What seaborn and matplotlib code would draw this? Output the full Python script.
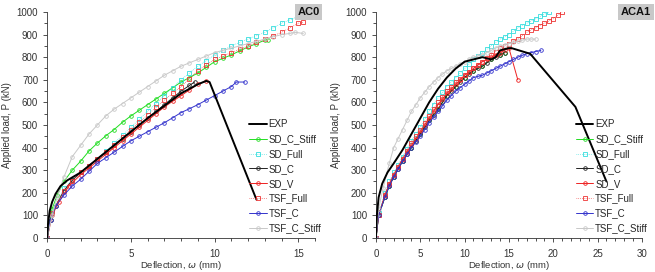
import matplotlib
matplotlib.use('Agg')
import matplotlib.pyplot as plt
from matplotlib.ticker import MultipleLocator
import seaborn as sns

# ---- AC0 数据 (挠度 mm, 荷载 kN) ----
ac0_exp_x = [0, 0.05, 0.15, 0.3, 0.5, 0.8, 1.2, 2, 3, 4, 5, 6, 7, 8, 9, 9.5, 9.7, 12.5]
ac0_exp_y = [0, 60, 120, 160, 195, 230, 255, 290, 350, 410, 470, 530, 585, 640, 680, 695, 690, 170]
ac0_sdcs_x = [0, 0.3, 0.6, 1, 1.5, 2, 2.5, 3, 3.5, 4, 4.5, 5, 5.5, 6, 6.5, 7, 7.5, 8, 8.5, 9, 9.5, 10, 10.5, 11, 11.5, 12, 12.5, 13, 13.2]
ac0_sdcs_y = [0, 130, 190, 250, 300, 340, 385, 420, 452, 480, 512, 540, 565, 590, 615, 640, 665, 690, 710, 730, 755, 780, 795, 810, 828, 845, 860, 875, 878]
ac0_sdf_x = [0, 0.3, 1, 1.5, 2, 2.5, 3, 3.5, 4, 4.5, 5, 5.5, 6, 6.5, 7, 7.5, 8, 8.5, 9, 9.5, 10, 10.5, 11, 11.5, 12, 12.5, 13, 13.5, 14, 14.5, 15]
ac0_sdf_y = [0, 110, 220, 255, 290, 320, 350, 385, 420, 455, 490, 525, 560, 595, 630, 665, 700, 730, 760, 785, 810, 830, 850, 865, 880, 895, 910, 930, 950, 965, 980]
ac0_sdc_x = [0, 0.2, 0.5, 1, 1.5, 2, 2.5, 3, 3.5, 4, 4.5, 5, 5.5, 6, 6.5, 7, 7.5, 8, 8.5, 8.8]
ac0_sdc_y = [0, 80, 140, 210, 255, 290, 320, 350, 380, 410, 440, 470, 500, 530, 560, 590, 620, 650, 675, 690]
ac0_sdv_x = [0, 0.3, 0.7, 1.3, 2, 2.5, 3, 3.5, 4, 4.5, 5, 5.5, 6, 6.5, 7, 7.5, 8, 8.5, 9, 9.5]
ac0_sdv_y = [0, 100, 160, 230, 280, 310, 340, 370, 400, 430, 460, 490, 520, 550, 580, 605, 630, 655, 680, 695]
ac0_tsff_x = [0, 0.3, 1, 1.5, 2, 2.5, 3, 3.5, 4, 4.5, 5, 5.5, 6, 6.5, 7, 7.5, 8, 8.5, 9, 9.5, 10, 10.5, 11, 11.5, 12, 12.5, 13, 13.5, 14, 14.5, 15, 15.3]
ac0_tsff_y = [0, 110, 210, 250, 290, 320, 350, 380, 410, 445, 480, 512, 545, 578, 610, 640, 670, 705, 740, 765, 790, 805, 820, 835, 850, 865, 880, 895, 910, 930, 950, 955]
ac0_tsfc_x = [0, 0.2, 0.5, 1, 1.5, 2, 2.5, 3, 3.5, 4, 4.5, 5, 5.5, 6, 6.5, 7, 7.5, 8, 8.5, 9, 9.5, 10, 10.5, 11, 11.3, 11.8]
ac0_tsfc_y = [0, 80, 140, 190, 230, 260, 295, 330, 355, 380, 405, 430, 450, 470, 490, 510, 532, 555, 572, 590, 610, 630, 650, 670, 690, 690]
ac0_tsfcs_x = [0, 0.3, 0.6, 1, 1.5, 2, 2.5, 3, 3.5, 4, 4.5, 5, 5.5, 6, 6.5, 7, 7.5, 8, 8.5, 9, 9.5, 10, 10.5, 11, 11.5, 12, 12.5, 13, 13.5, 14, 14.5, 14.8, 15.3]
ac0_tsfcs_y = [0, 100, 180, 270, 360, 410, 460, 500, 540, 570, 595, 620, 645, 670, 695, 720, 740, 760, 775, 790, 805, 820, 830, 840, 850, 860, 870, 880, 890, 900, 905, 910, 905]

# ---- ACA1 数据 ----
aca1_exp_x = [0, 0.1, 0.3, 0.7, 1.3, 2, 3, 4, 5, 6, 7, 8, 9, 10, 11, 12, 12.5, 13, 13.5, 14, 15, 15.3, 17.4, 22.5, 26]
aca1_exp_y = [0, 100, 180, 240, 290, 330, 390, 460, 530, 600, 660, 710, 750, 780, 790, 800, 795, 790, 800, 830, 840, 840, 815, 580, 250]
aca1_sdcs_x = [0, 0.3, 1, 1.5, 2, 3, 4, 5, 6, 7, 8, 9, 10, 11, 12, 13, 14, 14.5]
aca1_sdcs_y = [0, 100, 180, 230, 270, 340, 400, 460, 520, 570, 630, 670, 710, 740, 760, 790, 810, 820]
aca1_sdf_x = [0, 0.3, 1, 1.5, 2, 2.5, 3, 3.5, 4, 4.5, 5, 5.5, 6, 6.5, 7, 7.5, 8, 8.5, 9, 9.5, 10, 10.5, 11, 11.5, 12, 12.5, 13, 13.5, 14, 14.5, 15, 15.5, 16, 16.5, 17, 17.5, 18, 18.5, 19, 19.5]
aca1_sdf_y = [0, 110, 200, 250, 290, 325, 360, 395, 430, 460, 490, 525, 560, 590, 620, 645, 670, 690, 710, 730, 750, 770, 790, 805, 820, 835, 850, 865, 880, 890, 900, 915, 930, 940, 950, 960, 970, 980, 990, 1000]
aca1_sdc_x = [0, 0.3, 1, 1.5, 2, 2.5, 3, 3.5, 4, 4.5, 5, 5.5, 6, 6.5, 7, 7.5, 8, 8.5, 9, 9.5, 10, 10.5, 11, 11.5, 12, 12.5, 13, 13.5, 14, 14.5]
aca1_sdc_y = [0, 100, 180, 230, 270, 305, 340, 370, 400, 430, 460, 490, 520, 545, 570, 600, 630, 650, 670, 690, 710, 725, 740, 750, 760, 775, 790, 800, 810, 820]
aca1_sdv_x = [0, 0.3, 1, 1.5, 2, 2.5, 3, 3.5, 4, 4.5, 5, 5.5, 6, 6.5, 7, 7.5, 8, 8.5, 9, 9.5, 10, 10.5, 11, 11.5, 12, 12.5, 13, 13.5, 14, 14.5, 15, 16]
aca1_sdv_y = [0, 100, 190, 240, 280, 315, 350, 380, 410, 440, 470, 500, 530, 560, 590, 615, 640, 660, 680, 700, 720, 735, 750, 765, 780, 790, 800, 810, 820, 830, 840, 700]
aca1_tsff_x = [0, 0.3, 1, 1.5, 2, 2.5, 3, 3.5, 4, 4.5, 5, 5.5, 6, 6.5, 7, 7.5, 8, 8.5, 9, 9.5, 10, 10.5, 11, 11.5, 12, 12.5, 13, 13.5, 14, 14.5, 15, 15.5, 16, 16.5, 17, 17.5, 18, 18.5, 19, 19.5, 20, 20.5, 21]
aca1_tsff_y = [0, 100, 190, 240, 280, 315, 350, 385, 420, 450, 480, 510, 540, 570, 600, 625, 650, 670, 690, 705, 720, 735, 750, 765, 780, 795, 810, 825, 840, 850, 860, 870, 880, 895, 910, 920, 930, 940, 950, 960, 970, 985, 1000]
aca1_tsfc_x = [0, 0.3, 1, 1.5, 2, 2.5, 3, 3.5, 4, 4.5, 5, 5.5, 6, 6.5, 7, 7.5, 8, 8.5, 9, 9.5, 10, 10.5, 11, 11.5, 12, 12.5, 13, 13.5, 14, 14.5, 15, 15.5, 16, 16.5, 17, 17.5, 18, 18.6]
aca1_tsfc_y = [0, 100, 180, 230, 270, 305, 340, 370, 400, 425, 450, 480, 510, 535, 560, 585, 610, 630, 650, 665, 680, 695, 710, 715, 720, 730, 740, 750, 760, 770, 780, 790, 800, 808, 815, 820, 825, 830]
aca1_tsfcs_x = [0, 0.3, 0.8, 1.5, 2, 2.5, 3, 3.5, 4, 4.5, 5, 5.5, 6, 6.5, 7, 7.5, 8, 8.5, 9, 9.5, 10, 10.5, 11, 11.5, 12, 12.5, 13, 13.5, 14, 14.5, 15, 15.5, 16, 16.5, 17, 17.5, 18]
aca1_tsfcs_y = [0, 130, 220, 330, 400, 440, 480, 520, 560, 590, 620, 645, 670, 690, 710, 725, 740, 750, 760, 770, 780, 790, 800, 805, 810, 820, 830, 840, 850, 855, 860, 865, 870, 875, 880, 880, 880]

labels = ['EXP', 'SD_C_Stiff', 'SD_Full', 'SD_C', 'SD_V', 'TSF_Full', 'TSF_C', 'TSF_C_Stiff']

# 线型设置
styles = {
    'EXP': dict(color='black', marker=None, lw=1.4, ls='-'),
    'SD_C_Stiff': dict(color='#22dd22', marker='o', lw=0.7, ls='-'),
    'SD_Full': dict(color='#33dddd', marker='s', lw=0.5, ls=':'),
    'SD_C': dict(color='#222222', marker='o', lw=0.7, ls='-'),
    'SD_V': dict(color='#ee2222', marker='o', lw=0.7, ls='-'),
    'TSF_Full': dict(color='#ee3333', marker='s', lw=0.5, ls=':'),
    'TSF_C': dict(color='#3333cc', marker='o', lw=0.7, ls='-'),
    'TSF_C_Stiff': dict(color='#c8c8c8', marker='o', lw=0.7, ls='-'),
}

sns.set_style('ticks')
plt.rcParams['font.family'] = ['Liberation Sans', 'DejaVu Sans']
plt.rcParams['font.size'] = 7


def draw_panel(ax, series, xmax, title, box_x):
    for lab in labels:
        x, y = series[lab]
        st = styles[lab]
        sns.lineplot(x=x, y=y, ax=ax, sort=False, estimator=None,
                     color=st['color'], lw=st['lw'], ls=st['ls'],
                     marker=st['marker'], markersize=2.6,
                     markerfacecolor='none' if st['marker'] else None,
                     markeredgecolor=st['color'], markeredgewidth=0.6,
                     label=lab, zorder=3 if lab == 'EXP' else 2)
    ax.set_xlim(0, xmax)
    ax.set_ylim(0, 1000)
    ax.xaxis.set_major_locator(MultipleLocator(5))
    ax.xaxis.set_minor_locator(MultipleLocator(1))
    ax.yaxis.set_major_locator(MultipleLocator(100))
    ax.yaxis.set_minor_locator(MultipleLocator(50))
    ax.tick_params(which='major', length=3, width=0.6, labelsize=7, colors='#333333')
    ax.tick_params(which='minor', length=2, width=0.6, colors='#333333')
    ax.tick_params(axis='x', which='major', pad=5)
    for s in ['left', 'bottom']:
        ax.spines[s].set_linewidth(0.6)
        ax.spines[s].set_color('#333333')
    sns.despine(ax=ax)
    ax.set_xlabel('Deflection, $\\omega$ (mm)', fontsize=6.8, color='#333333', labelpad=0)
    ax.set_ylabel('Applied load, P (kN)', fontsize=7, color='#333333', labelpad=3)
    ax.legend(loc='lower right', bbox_to_anchor=(1.045, -0.005), frameon=False,
              fontsize=7, handlelength=1.8, handletextpad=0.2, labelspacing=0.5,
              borderaxespad=0.2)
    fig.text(box_x, 0.955, title, ha='center', va='center', fontsize=8,
             fontweight='bold', color='#111111',
             bbox=dict(facecolor='#c8c8c8', edgecolor='none', pad=2))


fig = plt.figure(figsize=(6.55, 2.72), dpi=100)
ax1 = fig.add_axes([0.072, 0.125, 0.409, 0.831])
ax2 = fig.add_axes([0.574, 0.125, 0.406, 0.831])

ac0 = {
    'EXP': (ac0_exp_x, ac0_exp_y), 'SD_C_Stiff': (ac0_sdcs_x, ac0_sdcs_y),
    'SD_Full': (ac0_sdf_x, ac0_sdf_y), 'SD_C': (ac0_sdc_x, ac0_sdc_y),
    'SD_V': (ac0_sdv_x, ac0_sdv_y), 'TSF_Full': (ac0_tsff_x, ac0_tsff_y),
    'TSF_C': (ac0_tsfc_x, ac0_tsfc_y), 'TSF_C_Stiff': (ac0_tsfcs_x, ac0_tsfcs_y),
}
aca1 = {
    'EXP': (aca1_exp_x, aca1_exp_y), 'SD_C_Stiff': (aca1_sdcs_x, aca1_sdcs_y),
    'SD_Full': (aca1_sdf_x, aca1_sdf_y), 'SD_C': (aca1_sdc_x, aca1_sdc_y),
    'SD_V': (aca1_sdv_x, aca1_sdv_y), 'TSF_Full': (aca1_tsff_x, aca1_tsff_y),
    'TSF_C': (aca1_tsfc_x, aca1_tsfc_y), 'TSF_C_Stiff': (aca1_tsfcs_x, aca1_tsfcs_y),
}

draw_panel(ax1, ac0, 16, 'AC0', 0.471)
draw_panel(ax2, aca1, 30, 'ACA1', 0.971)

fig.savefig('out.png', dpi=100)
